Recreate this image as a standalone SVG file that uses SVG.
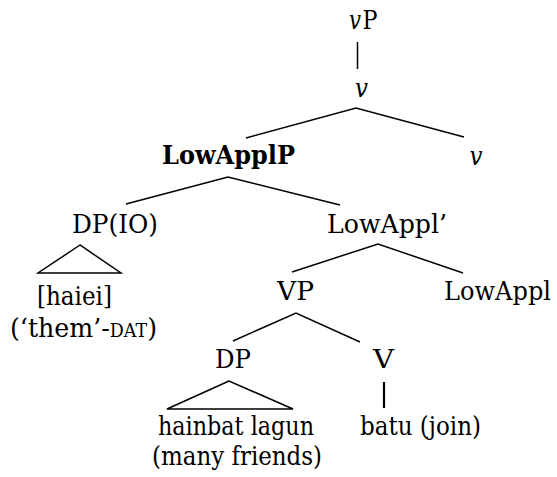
<svg xmlns="http://www.w3.org/2000/svg" width="557" height="477" viewBox="0 0 557 477">
  <style>
    text { font-family: "DejaVu Serif", serif; font-size: 26px; fill: #000; text-anchor: middle; }
    .it { font-style: italic; }
    .b { font-weight: bold; }
    .st { text-anchor: start; }
    .en { text-anchor: end; }
    .sc { font-size: 18px; }
    .edge { stroke: #000; stroke-width: 1.5; fill: none; }
    .thick { stroke-width: 2.2; }
  </style>
  <rect width="557" height="477" fill="#fff"/>

  <!-- branches -->
  <g id="connectors">
    <line class="edge" x1="357.5" y1="42" x2="357.5" y2="69"/>
    <polyline class="edge" points="246,138 356,108 464,137"/>
    <polyline class="edge" points="126,204 228,177 340,205"/>
    <polyline class="edge" points="292,272 378,244 463,273"/>
    <polyline class="edge" points="233,341 296,313 360,342"/>
    <line class="edge thick" x1="384" y1="382" x2="384" y2="408"/>
    <polygon class="edge" points="80,245 38,273 121,273"/>
    <polygon class="edge" points="229,381 167,409 293,409"/>
  </g>

  <!-- node labels; widths fixed with textLength -->
  <g id="vP">
    <text class="it en" x="361" y="29" textLength="12" lengthAdjust="spacingAndGlyphs">v</text>
    <text class="st" x="362.5" y="29" textLength="15" lengthAdjust="spacingAndGlyphs">P</text>
  </g>
  <g id="v-bar"><text class="it" x="361.5" y="97" textLength="13" lengthAdjust="spacingAndGlyphs">v</text></g>
  <g id="v-head"><text class="it" x="476" y="165" textLength="13" lengthAdjust="spacingAndGlyphs">v</text></g>
  <g id="LowApplP"><text class="b" x="228.5" y="164" textLength="133" lengthAdjust="spacingAndGlyphs">LowApplP</text></g>
  <g id="DP-IO"><text x="115" y="233" textLength="86" lengthAdjust="spacingAndGlyphs">DP(IO)</text></g>
  <g id="haiei">
    <text x="74.5" y="305" textLength="75" lengthAdjust="spacingAndGlyphs">[haiei]</text>
    <text x="83.5" y="337" textLength="147" lengthAdjust="spacingAndGlyphs">(‘them’-<tspan class="sc">DAT</tspan>)</text>
  </g>
  <g id="LowAppl-bar"><text x="387" y="233" textLength="120" lengthAdjust="spacingAndGlyphs">LowAppl’</text></g>
  <g id="VP"><text x="295.5" y="300" textLength="37" lengthAdjust="spacingAndGlyphs">VP</text></g>
  <g id="LowAppl"><text x="497.5" y="300" font-size="23.5" textLength="107" lengthAdjust="spacingAndGlyphs">LowAppl</text></g>
  <g id="DP"><text x="233" y="368" textLength="36" lengthAdjust="spacingAndGlyphs">DP</text></g>
  <g id="V"><text x="383.5" y="368" textLength="21" lengthAdjust="spacingAndGlyphs">V</text></g>
  <g id="hainbat">
    <text x="236" y="435" textLength="156" lengthAdjust="spacingAndGlyphs">hainbat lagun</text>
    <text x="237" y="465" textLength="170" lengthAdjust="spacingAndGlyphs">(many friends)</text>
  </g>
  <g id="batu"><text x="420.5" y="435" textLength="121" lengthAdjust="spacingAndGlyphs">batu (join)</text></g>
</svg>
